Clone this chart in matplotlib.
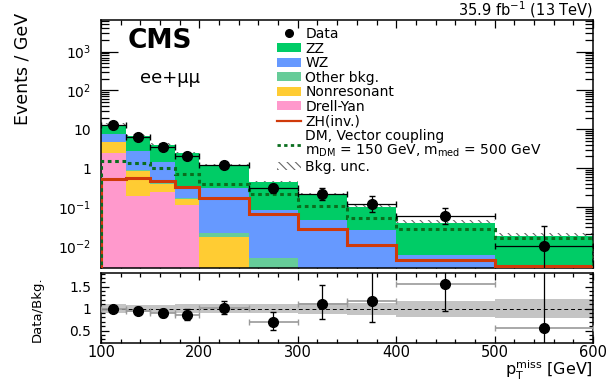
import math
import numpy as np
import matplotlib
matplotlib.use("Agg")
import matplotlib.pyplot as plt
from matplotlib.patches import Patch
from matplotlib.lines import Line2D
from matplotlib.ticker import FixedLocator, MultipleLocator, FuncFormatter, NullFormatter, LogLocator

plt.rcParams['font.family'] = ['DejaVu Sans']
plt.rcParams['mathtext.default'] = 'regular'
plt.rcParams['hatch.linewidth'] = 0.8

# Binning in p_T^miss [GeV]
edges = np.array([100, 125, 150, 175, 200, 250, 300, 350, 400, 500, 600])

# Background predictions, events / GeV (stack order: bottom -> top)
drell_yan = [2.5, 0.187, 0.237, 0.11, 0.0, 0.0, 0.0, 0.0, 0.0, 0.0]
nonresonant = [2.2, 0.66, 0.153, 0.05, 0.0171, 0.0, 0.0, 0.0, 0.0, 0.0]
other_bkg = [0.10, 0.05, 0.02, 0.01, 0.0043, 0.005, 0.0012, 0.0006, 0.0003, 0.0002]
wz = [2.7, 1.9, 0.99, 0.12, 0.279, 0.08, 0.044, 0.0245, 0.0054, 0.002]
zz = [5.5, 4.02, 2.62, 2.14, 0.857, 0.345, 0.155, 0.0775, 0.0325, 0.0155]

# Relative background uncertainty per bin
bkg_unc = [0.10, 0.08, 0.09, 0.10, 0.10, 0.10, 0.12, 0.14, 0.18, 0.22]

# Signal hypotheses, events / GeV
zh_inv = [0.52, 0.56, 0.48, 0.32, 0.166, 0.066, 0.027, 0.0105, 0.0044, 0.0031]
dm_vector = [1.51, 1.35, 1.04, 0.71, 0.40, 0.22, 0.107, 0.051, 0.027, 0.016]

# Observed event counts per bin
data_counts = [325, 162, 90, 52, 59, 15, 11, 6, 6, 1]

y_ticks = [1e-2, 1e-1, 1, 10, 1e2, 1e3]
y_tick_labels = ['$10^{-2}$', '$10^{-1}$', '1', '10', '$10^{2}$', '$10^{3}$']


def poisson_cdf(n, mu):
    if mu <= 0:
        return 1.0
    s = 0.0
    for k in range(n + 1):
        s += math.exp(-mu + k * math.log(mu) - math.lgamma(k + 1))
    return s


def garwood(n, cl=0.682689):
    a = (1.0 - cl) / 2.0
    if n == 0:
        lo = 0.0
    else:
        a_lo, a_hi = 0.0, float(n)
        for _ in range(80):
            mid = 0.5 * (a_lo + a_hi)
            if 1.0 - poisson_cdf(n - 1, mid) > a:
                a_hi = mid
            else:
                a_lo = mid
        lo = 0.5 * (a_lo + a_hi)
    b_lo, b_hi = float(n), n + 10 * math.sqrt(n + 1) + 10
    for _ in range(80):
        mid = 0.5 * (b_lo + b_hi)
        if poisson_cdf(n, mid) > a:
            b_lo = mid
        else:
            b_hi = mid
    up = 0.5 * (b_lo + b_hi)
    return lo, up


widths = np.diff(edges)
centers = 0.5 * (edges[:-1] + edges[1:])
counts = np.array(data_counts, dtype=float)
dens = counts / widths
intervals = np.array([garwood(int(n)) for n in data_counts])
err_lo = (counts - intervals[:, 0]) / widths
err_hi = (intervals[:, 1] - counts) / widths

components = [
    (drell_yan, '#ff99cc', 'Drell-Yan'),
    (nonresonant, '#ffcc33', 'Nonresonant'),
    (other_bkg, '#66cc99', 'Other bkg.'),
    (wz, '#6699ff', 'WZ'),
    (zz, '#00cc66', 'ZZ'),
]
total = np.sum([np.array(c[0]) for c in components], axis=0)
unc = np.array(bkg_unc)

fig = plt.figure(figsize=(6.13, 3.81), dpi=100)
ax = fig.add_axes([0.1648, 0.2966, 0.8026, 0.6509])
rax = fig.add_axes([0.1648, 0.0989, 0.8026, 0.1854])

floor = 1e-6
# uncertainty hatch sits beneath the stack so only the upper half shows
ax.stairs(total * (1 + unc), edges, baseline=total * (1 - unc), fill=True,
          facecolor='none', edgecolor='#666666', hatch='\\\\\\\\', lw=0, zorder=1)
base = np.full(len(total), floor)
for vals, col, _ in components:
    top = base + np.array(vals)
    ax.stairs(top, edges, baseline=base, fill=True, color=col, lw=0, zorder=2)
    base = top

zh_color = '#d03a0a'
dm_color = '#0a6e1e'
dm_style = (0, (1.2, 1.2))
ax.stairs(zh_inv, edges, baseline=floor, color=zh_color, lw=2.2, zorder=4)
ax.stairs(dm_vector, edges, baseline=floor, color=dm_color, lw=2.2,
          linestyle=dm_style, zorder=4)

ax.errorbar(centers, dens, xerr=widths / 2, yerr=[err_lo, err_hi], fmt='o',
            color='k', ms=7, lw=0.9, capsize=2, zorder=5)

ax.set_xlim(100, 600)
ax.set_yscale('log')
ax.set_ylim(0.0027, 6500)
ax.yaxis.set_major_locator(FixedLocator(y_ticks))
ax.yaxis.set_major_formatter(FuncFormatter(lambda v, p: y_tick_labels[y_ticks.index(v)] if v in y_ticks else ''))
ax.yaxis.set_minor_locator(LogLocator(base=10, subs=np.arange(2, 10)))
ax.yaxis.set_minor_formatter(NullFormatter())
ax.xaxis.set_major_locator(MultipleLocator(100))
ax.xaxis.set_minor_locator(MultipleLocator(20))
ax.tick_params(which='both', direction='in', top=True, right=True, labelbottom=False, width=0.9)
ax.tick_params(axis='y', which='major', length=12, labelsize=10, pad=7)
ax.tick_params(axis='y', which='minor', length=6)
ax.tick_params(axis='x', which='major', length=6)
ax.tick_params(axis='x', which='minor', length=3.5)
for s in ax.spines.values():
    s.set_linewidth(1.1)

# ratio panel
ratio = dens / total
rax.stairs(1 + unc, edges, baseline=1 - unc, fill=True, color='#c4c4c4', lw=0, zorder=1)
rax.axhline(1, color='k', lw=0.7, ls=(0, (4, 3)), zorder=2)
rax.errorbar(centers, ratio, xerr=widths / 2, fmt='none', ecolor='#9a9a9a',
             lw=1.2, capsize=2, zorder=3)
rax.errorbar(centers, ratio, yerr=[err_lo / total, err_hi / total], fmt='o',
             color='k', ms=7, lw=0.9, capsize=2, zorder=4)
rax.set_xlim(100, 600)
rax.set_ylim(0.21, 1.82)
rax.yaxis.set_major_locator(FixedLocator([0.5, 1.0, 1.5]))
rax.yaxis.set_major_formatter(FuncFormatter(lambda v, p: '%g' % v))
rax.yaxis.set_minor_locator(MultipleLocator(0.1))
rax.xaxis.set_major_locator(MultipleLocator(100))
rax.xaxis.set_minor_locator(MultipleLocator(20))
rax.tick_params(which='both', direction='in', top=True, right=True, width=0.9)
rax.tick_params(axis='y', which='major', length=6, labelsize=10, pad=7)
rax.tick_params(axis='y', which='minor', length=3)
rax.tick_params(axis='x', which='major', length=5, labelsize=10.5, pad=1)
rax.tick_params(axis='x', which='minor', length=3)
for s in rax.spines.values():
    s.set_linewidth(1.1)

# legend
handles = [Line2D([], [], marker='o', color='k', ms=5.5, lw=0)]
labels = ['Data']
for vals, col, name in components[::-1]:
    handles.append(Patch(facecolor=col, edgecolor='none'))
    labels.append(name)
handles.append(Line2D([], [], color=zh_color, lw=1.6))
labels.append('ZH(inv.)')
handles.append(Line2D([], [], color=dm_color, lw=2.0, linestyle=dm_style))
labels.append('DM, Vector coupling\n$m_{DM}$ = 150 GeV, $m_{med}$ = 500 GeV')
handles.append(Patch(facecolor='none', edgecolor='#666666', hatch='\\\\\\\\', lw=0))
labels.append('Bkg. unc.')
leg = ax.legend(handles, labels, loc='upper left', bbox_to_anchor=(277 / 613, 1 - 27 / 381),
                bbox_transform=fig.transFigure, frameon=False, fontsize=10,
                handlelength=1.75, handleheight=0.6, handletextpad=0.3,
                labelspacing=0.04, borderpad=0, borderaxespad=0)
for t in leg.get_texts():
    t.set_linespacing(1.0)

fig.text(128 / 613, 1 - 41 / 381, 'CMS', weight='bold', size=19, ha='left', va='center')
fig.text(140 / 613, 1 - 83 / 381, 'ee+\u03bc\u03bc', size=13, ha='left', va='baseline')
fig.text(593 / 613, 1 - 16 / 381, '35.9 fb$^{-1}$ (13 TeV)', size=10.5, ha='right', va='baseline')
fig.text(593 / 613, 1 - 375 / 381, '$p_{T}^{miss}$ [GeV]', size=11.5, ha='right', va='baseline')
fig.text(22.5 / 613, 1 - 13 / 381, 'Events / GeV', rotation=90, size=12.5, ha='center', va='top')
fig.text(37 / 613, 1 - 309 / 381, 'Data/Bkg.', rotation=90, size=9.5, ha='center', va='center')

fig.savefig('out.png', dpi=100)
